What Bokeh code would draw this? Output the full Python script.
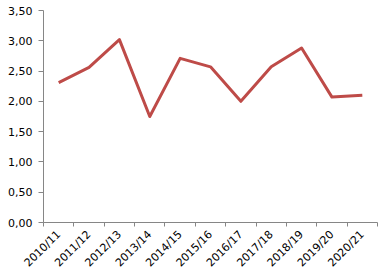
import math
from bokeh.plotting import figure
from bokeh.models import Range1d, FixedTicker, LinearAxis, CustomJSTickFormatter
from bokeh.embed import file_html
from bokeh.resources import INLINE

categories = ["2010/11", "2011/12", "2012/13", "2013/14", "2014/15", "2015/16",
              "2016/17", "2017/18", "2018/19", "2019/20", "2020/21"]
values = [2.31, 2.56, 3.02, 1.75, 2.71, 2.57, 2.00, 2.57, 2.88, 2.07, 2.10]
y_ticks = [0.0, 0.5, 1.0, 1.5, 2.0, 2.5, 3.0, 3.5]

xs = [i + 0.5 for i in range(len(categories))]

FONT = "DejaVu Sans"
GRAY = "#868686"

p = figure(width=387, height=277, output_backend="svg", toolbar_location=None,
           x_range=Range1d(0, len(categories)), y_range=Range1d(0, 3.5),
           min_border_left=43, min_border_right=10, min_border_top=10, min_border_bottom=55,
           x_axis_type=None, y_axis_type=None)
p.outline_line_color = None
p.background_fill_color = "white"
p.border_fill_color = "white"

# y axis
yax = LinearAxis(ticker=FixedTicker(ticks=y_ticks, minor_ticks=[]))
yax.formatter = CustomJSTickFormatter(code="return tick.toFixed(2).replace('.', ',');")
yax.axis_line_color = GRAY
yax.major_tick_line_color = GRAY
yax.major_tick_out = 5
yax.major_tick_in = 0
yax.minor_tick_line_color = None
yax.major_label_text_font = FONT
yax.major_label_text_font_size = "11px"
yax.major_label_text_color = "black"
yax.major_label_standoff = 6
p.add_layout(yax, "left")

# x axis
xax = LinearAxis(ticker=FixedTicker(ticks=xs, minor_ticks=list(range(len(categories) + 1))))
xax.major_label_overrides = {x: c for x, c in zip(xs, categories)}
xax.axis_line_color = GRAY
xax.major_tick_line_color = None
xax.major_tick_out = 0
xax.major_tick_in = 0
xax.minor_tick_line_color = GRAY
xax.minor_tick_out = 4
xax.minor_tick_in = 0
xax.major_label_orientation = math.pi / 4
xax.major_label_text_font = FONT
xax.major_label_text_font_size = "11px"
xax.major_label_text_color = "black"
xax.major_label_standoff = 6
p.add_layout(xax, "below")

p.ygrid.ticker = FixedTicker(ticks=y_ticks)
p.ygrid.grid_line_color = GRAY
p.ygrid.grid_line_width = 1
p.xgrid.visible = False

p.line(xs, values, line_color="#BE4B48", line_width=3, line_join="round")

open("out.html", "w").write(file_html(p, INLINE))
